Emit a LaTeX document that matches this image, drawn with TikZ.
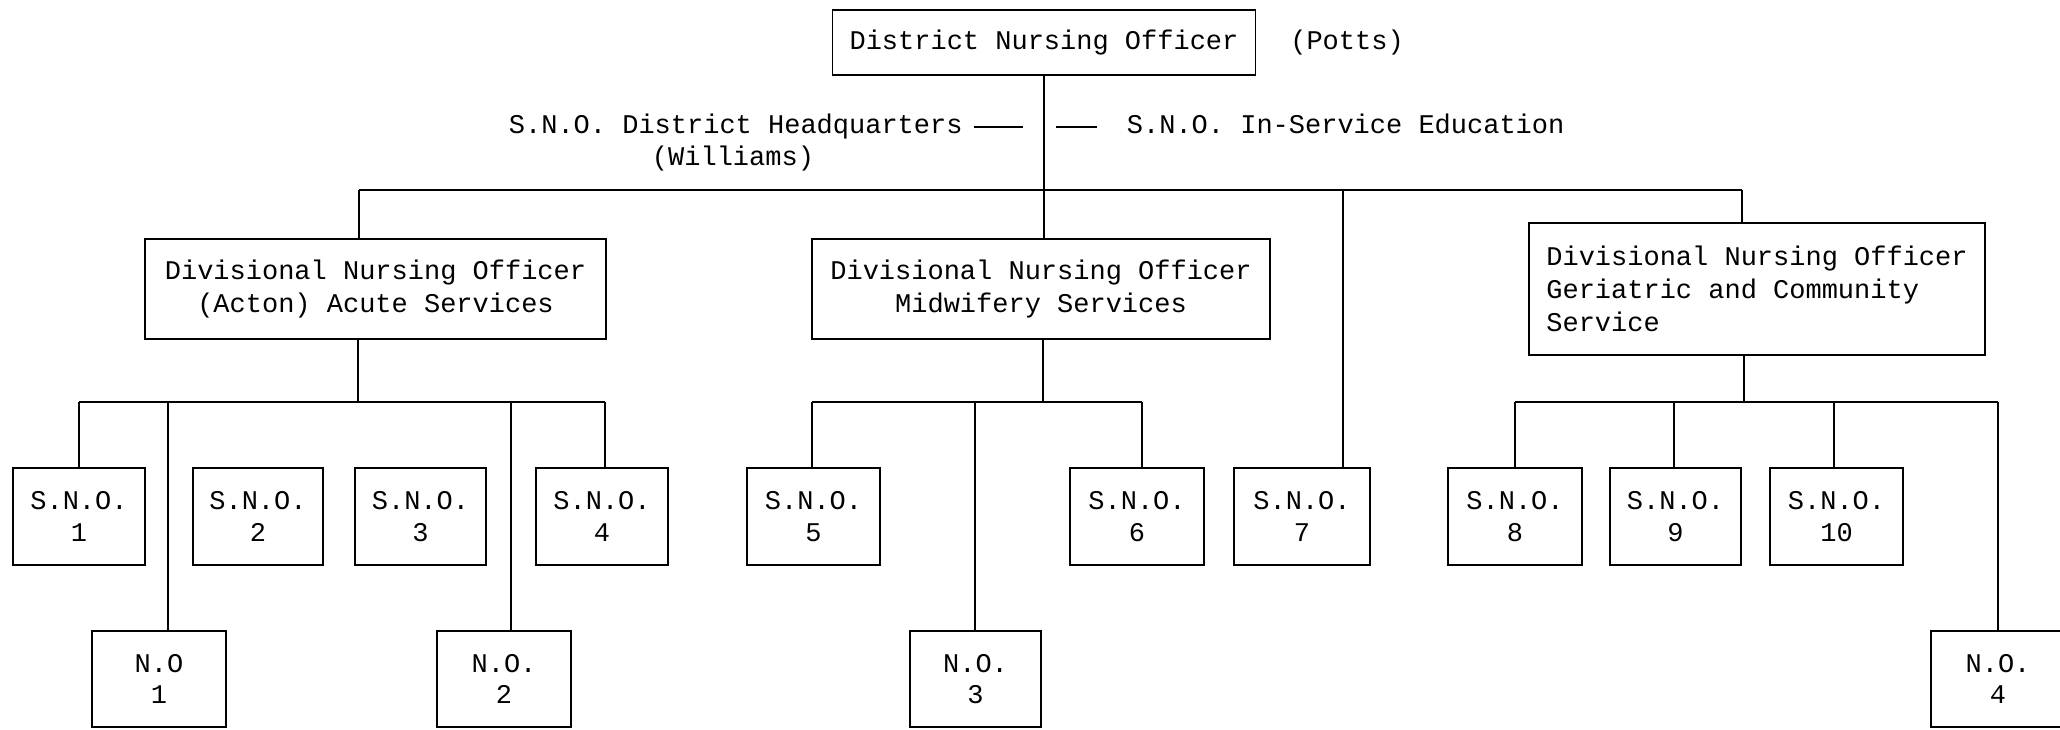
\documentclass[tikz,border=0pt]{standalone}
\usepackage{fontspec}
\setmainfont{Liberation Mono}
\begin{document}
\begin{tikzpicture}[x=0.5pt,y=-0.5pt, line width=0.9pt,
  orgbox/.style={draw, line width=0.9pt, inner sep=0pt, align=center,
    font=\fontsize{13.5}{16.5}\selectfont},
  lbl/.style={inner sep=0pt, font=\fontsize{13.5}{16.5}\selectfont},
  snobox/.style={orgbox, minimum height=48.5pt, font=\fontsize{13.5}{15.8}\selectfont},
  nobox/.style={orgbox, minimum height=48pt, font=\fontsize{13.5}{15.8}\selectfont}]
\useasboundingbox (0,0) rectangle (2060,729);
\fill[white] (0,0) rectangle (2060,729);
\clip (0,0) rectangle (2060,729);

% top
\node[orgbox, minimum width=211.5pt, minimum height=32.5pt] (dno) at (1044,42.5) {District Nursing Officer};
\node[lbl] (potts) at (1347,43) {(Potts)};
\node[lbl, anchor=base west] (hq) at (508,133) {S.N.O. District Headquarters};
\node[lbl, anchor=base] (will) at (733,165) {(Williams)};
\node[lbl, anchor=base west] (ise) at (1126,133) {S.N.O. In-Service Education};
\coordinate (hqa) at (974,127);
\coordinate (hqb) at (1023,127);
\coordinate (isa) at (1056,127);
\coordinate (isb) at (1097,127);
\draw[line width=0.7pt] (hqa) -- (hqb);
\draw[line width=0.7pt] (isa) -- (isb);

% divisional
\node[orgbox, minimum width=230.5pt, minimum height=50pt] (acute) at (375.5,289) {Divisional Nursing Officer\\(Acton) Acute Services};
\node[orgbox, minimum width=229pt, minimum height=50pt] (midw) at (1041,289) {Divisional Nursing Officer\\Midwifery Services};
\node[orgbox, align=left, minimum width=228pt, minimum height=66pt] (geri) at (1757,289) {Divisional Nursing Officer\\Geriatric and Community\\Service};

% S.N.O. row
\node[snobox, minimum width=66pt] (sno1) at (79,516.5) {S.N.O.\\1};
\node[snobox, minimum width=65pt] (sno2) at (258,516.5) {S.N.O.\\2};
\node[snobox, minimum width=65.5pt] (sno3) at (420.5,516.5) {S.N.O.\\3};
\node[snobox, minimum width=66pt] (sno4) at (602,516.5) {S.N.O.\\4};
\node[snobox, minimum width=66.5pt] (sno5) at (813.5,516.5) {S.N.O.\\5};
\node[snobox, minimum width=67pt] (sno6) at (1137,516.5) {S.N.O.\\6};
\node[snobox, minimum width=68pt] (sno7) at (1302,516.5) {S.N.O.\\7};
\node[snobox, minimum width=67pt] (sno8) at (1515,516.5) {S.N.O.\\8};
\node[snobox, minimum width=65.5pt] (sno9) at (1675.5,516.5) {S.N.O.\\9};
\node[snobox, minimum width=66.5pt] (sno10) at (1836.5,516.5) {S.N.O.\\10};

% N.O. row
\node[nobox, minimum width=67pt] (no1) at (159,679) {N.O\\1};
\node[nobox, minimum width=67pt] (no2) at (504,679) {N.O.\\2};
\node[nobox, minimum width=65.5pt] (no3) at (975.5,679) {N.O.\\3};
\node[nobox, minimum width=67pt] (no4) at (1998,679) {N.O.\\4};

% top bar
\coordinate (t1) at (359,190);
\coordinate (t2) at (1044,190);
\coordinate (t3) at (1343,190);
\coordinate (t4) at (1742,190);
\draw (dno.south) -- (dno.south |- t2);
\draw (t1) -- (t4);
\draw (t1) -- (t1 |- acute.north);
\draw (t2) -- (t2 |- midw.north);
\draw (t3) -- (t3 |- sno7.north);
\draw (t4) -- (t4 |- geri.north);

% acute branch
\coordinate (a0) at (358,402);
\coordinate (a1) at (79,402);
\coordinate (a2) at (168,402);
\coordinate (a3) at (511,402);
\coordinate (a4) at (605,402);
\draw (a0 |- acute.south) -- (a0);
\draw (a1) -- (a4);
\draw (a1) -- (a1 |- sno1.north);
\draw (a2) -- (a2 |- no1.north);
\draw (a3) -- (a3 |- no2.north);
\draw (a4) -- (a4 |- sno4.north);

% midwifery branch
\coordinate (m0) at (1043,402);
\coordinate (m1) at (812,402);
\coordinate (m2) at (975,402);
\coordinate (m3) at (1142,402);
\draw (m0 |- midw.south) -- (m0);
\draw (m1) -- (m3);
\draw (m1) -- (m1 |- sno5.north);
\draw (m2) -- (m2 |- no3.north);
\draw (m3) -- (m3 |- sno6.north);

% geriatric branch
\coordinate (g0) at (1744,402);
\coordinate (g1) at (1515,402);
\coordinate (g2) at (1674,402);
\coordinate (g3) at (1834,402);
\coordinate (g4) at (1998,402);
\draw (g0 |- geri.south) -- (g0);
\draw (g1) -- (g4);
\draw (g1) -- (g1 |- sno8.north);
\draw (g2) -- (g2 |- sno9.north);
\draw (g3) -- (g3 |- sno10.north);
\draw (g4) -- (g4 |- no4.north);
\end{tikzpicture}
\end{document}
